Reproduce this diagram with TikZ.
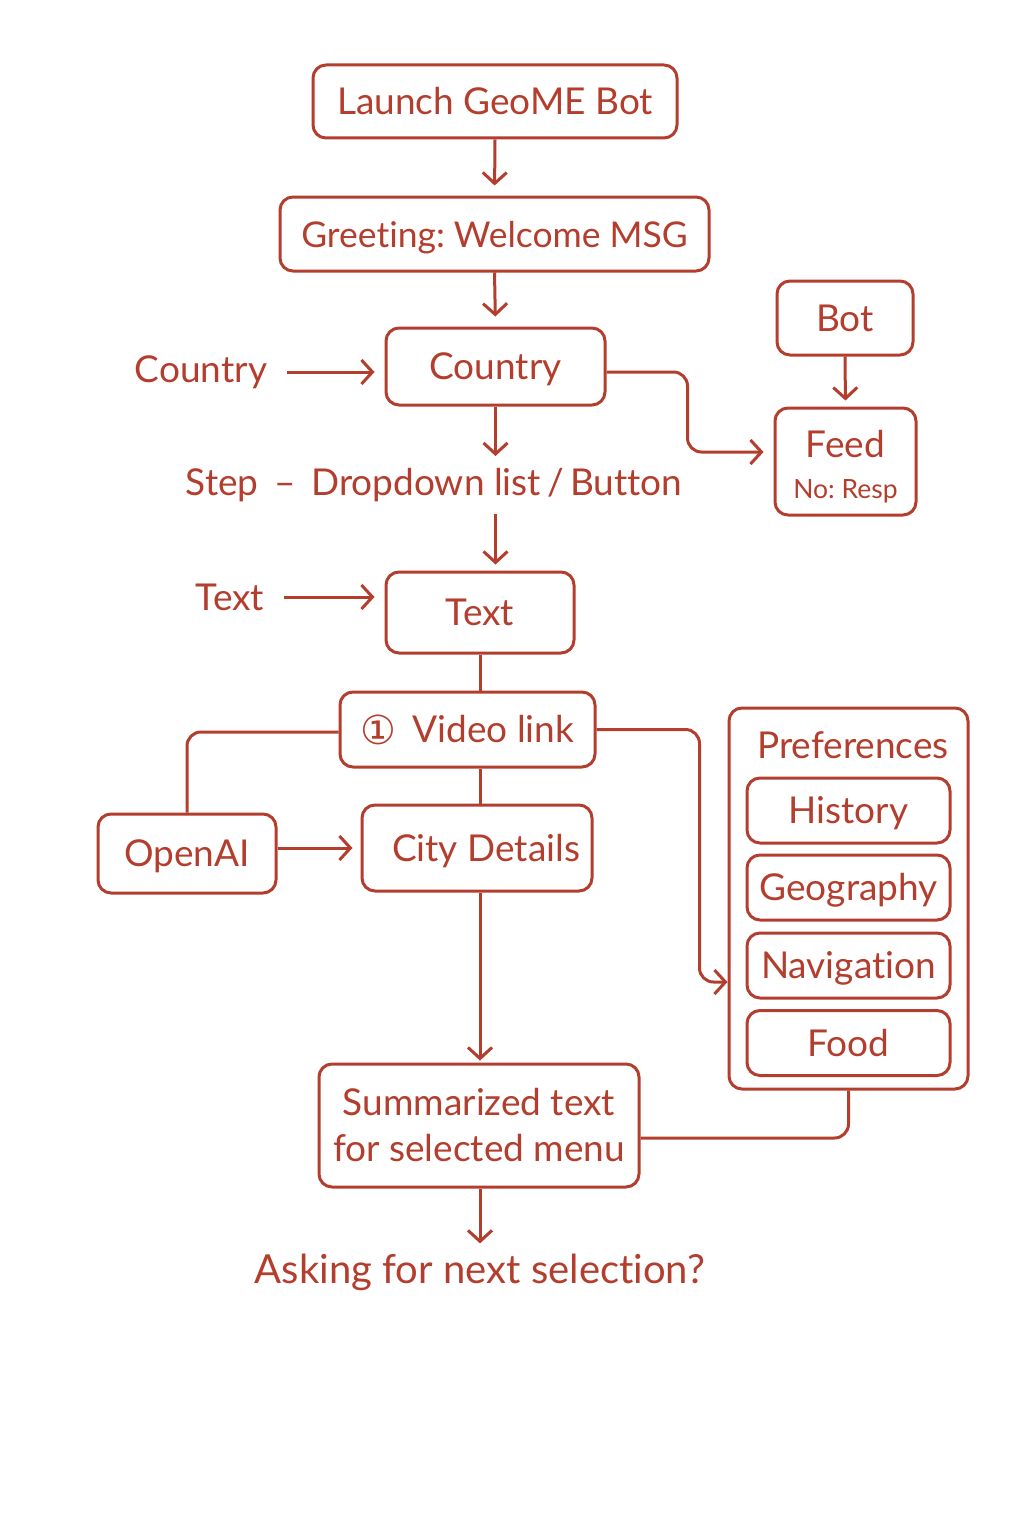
\documentclass[tikz,border=0pt]{standalone}
\usepackage{fontspec}
\setmainfont{Lato}[Ligatures={NoCommon}]
\newfontfamily\symfont{DejaVu Sans}
\usetikzlibrary{arrows.meta,calc}
\definecolor{ink}{RGB}{180,62,46}
\frenchspacing
\tikzset{
  box/.style={draw=ink, line width=3pt, rounded corners=13pt, inner sep=0pt, text=ink, align=center, font=\fontsize{37}{44}\selectfont, text height=26pt, text depth=0pt},
  multi/.style={text height={}, text depth={}},
  lbl/.style={inner sep=0pt, text=ink, font=\fontsize{37}{44}\selectfont},
  conn/.style={draw=ink, line width=3pt},
  arr/.style={conn, -{Straight Barb[length=11pt,width=24pt,line width=3pt]}},
}
\begin{document}
\begin{tikzpicture}[x=1pt,y=-1pt]
\useasboundingbox (0,0) rectangle (1024,1536);
\fill[white] (0,0) rectangle (1024,1536);
% nodes
\node[box, minimum width=364pt, minimum height=73pt] (launch) at (495,101.5) {Launch GeoME Bot};
\node[box, minimum width=429pt, minimum height=74pt, font=\fontsize{35.5}{42}\selectfont] (greet) at (494.5,234) {Greeting: Welcome MSG};
\node[box, minimum width=219pt, minimum height=77pt] (country) at (495.5,366.5) {Country};
\node[lbl] (countrylbl) at (201,372) {Country};
\node[box, minimum width=136pt, minimum height=74pt] (bot) at (845,318) {Bot};
\node[box, multi, minimum width=141pt, minimum height=107pt] (feed) at (845.5,461.5) {\rule{0pt}{38pt}Feed\\[-3pt]{\fontsize{26.5}{31}\selectfont No: Resp}};
\node[lbl] (steplbl) at (434,485) {Step \,–\, Dropdown list\,/\,Button};
\node[lbl] (textlbl) at (230,597) {Text};
\node[box, minimum width=188pt, minimum height=81pt] (textbox) at (480,612.5) {Text};
\node[box, minimum width=255pt, minimum height=75pt] (video) at (467.5,729.5) {{\symfont\fontsize{40}{44}\selectfont\raisebox{-2pt}{①}}\, Video link};
\node[box, minimum width=178pt, minimum height=79pt] (openai) at (187,853.5) {OpenAI};
\node[box, minimum width=230pt, minimum height=86pt] (city) at (477,848) {\hspace*{18pt}City Details};
\node[box, minimum width=239pt, minimum height=381pt] (prefs) at (848.5,898.5) {};
\node[lbl] (prefslbl) at (853,745) {Preferences};
\node[box, minimum width=203pt, minimum height=65pt] (hist) at (848.5,810.5) {History};
\node[box, minimum width=203pt, minimum height=65pt] (geo) at (848.5,887.5) {Geography};
\node[box, minimum width=203pt, minimum height=65pt] (nav) at (848.5,965.5) {Navigation};
\node[box, minimum width=203pt, minimum height=65pt] (food) at (848.5,1043) {Food};
\node[box, multi, minimum width=320pt, minimum height=123pt] (summ) at (479,1125.5) {Summarized text\\[2pt]for selected menu};
\node[lbl, font=\fontsize{40}{48}\selectfont] (ask) at (480,1272) {Asking for next selection?};
% connectors
\draw[arr, shorten >=10pt] (launch.south) -- (greet.north);
\draw[arr, shorten >=10pt] (greet.south) -- (country.north);
\draw[arr, shorten <=20pt, shorten >=10pt] (countrylbl.east) -- (country.west |- countrylbl.east);
\draw[arr, shorten >=6pt] (bot.south) -- (feed.north);
\draw[arr, rounded corners=14pt, shorten >=10pt] ([yshift=-5.5pt]country.east) -- ++(81,0) |- ([yshift=9.5pt]feed.west);
\draw[arr, shorten >=12pt] (country.south) -- (country.south |- steplbl.north);
\draw[arr, shorten <=12pt, shorten >=6pt] (country.south |- steplbl.south) -- (country.south |- textbox.north);
\draw[arr, shorten <=20pt, shorten >=10pt] (textlbl.east) -- (textbox.west |- textlbl.east);
\draw[conn] (textbox.south) -- (textbox.south |- video.north);
\draw[conn, rounded corners=14pt] ([yshift=-2.5pt]video.west) -| (openai.north);
\draw[arr, shorten >=8pt] (openai.east |- city.west) -- (city.west);
\draw[conn] (textbox.south |- video.south) -- (textbox.south |- city.north);
\draw[arr, shorten >=2pt] (textbox.south |- city.south) -- (textbox.south |- summ.north);
\draw[arr, rounded corners=14pt] (video.east) -- ++(103,0) |- ([yshift=-83.5pt]prefs.west);
\draw[conn, rounded corners=14pt] (prefs.south) |- ([yshift=-12.5pt]summ.east);
\draw[arr, shorten >=10pt] (textbox.south |- summ.south) -- (textbox.south |- ask.north);
\end{tikzpicture}
\end{document}
